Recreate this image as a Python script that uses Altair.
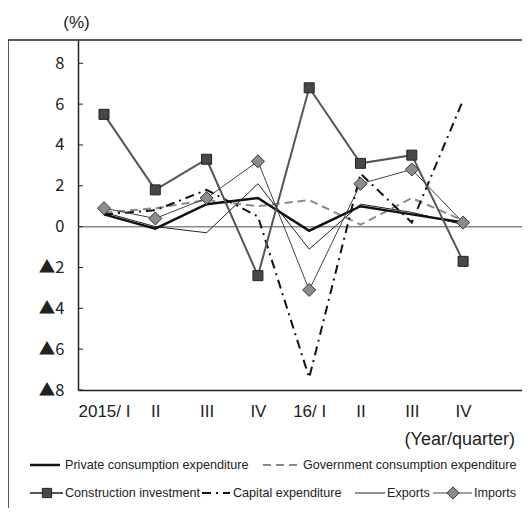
import json
import altair as alt
import pandas as pd

# ---------------- data ----------------
quarters = ["2015/ I", "II", "III", "IV", "16/ I", "II", "III", "IV"]
private_consumption = [0.6, -0.1, 1.1, 1.4, -0.2, 1.0, 0.6, 0.2]
government_consumption = [0.7, 0.9, 1.3, 1.0, 1.3, 0.1, 1.4, 0.3]
construction_investment = [5.5, 1.8, 3.3, -2.4, 6.8, 3.1, 3.5, -1.7]
capital_expenditure = [0.6, 0.8, 1.8, 0.5, -7.4, 2.6, 0.2, 6.2]
exports = [0.7, 0.0, -0.3, 2.1, -1.1, 1.1, 0.7, 0.1]
imports = [0.9, 0.4, 1.4, 3.2, -3.1, 2.1, 2.8, 0.2]
y_ticks = [-8, -6, -4, -2, 0, 2, 4, 6, 8]

W, H = 444, 350
FONT = "Liberation Sans, Arial, Helvetica, sans-serif"
YFONT = "Noto Sans CJK JP, sans-serif"
LEG_SIZE = 12.6
INK = "#222"

def frame(values):
    return pd.DataFrame({"q": list(range(len(quarters))), "v": values})

x_enc = alt.X(
    "q:Q",
    scale=alt.Scale(domain=[-0.507, 8.148], nice=False, zero=False),
    axis=alt.Axis(
        title=None, values=list(range(len(quarters))),
        labelExpr=json.dumps(quarters) + "[datum.value]",
        ticks=False, grid=False, labelFlush=False, labelOverlap=False,
        labelFont=FONT, labelFontSize=17, labelColor=INK, labelPadding=13,
        domainColor=INK, domainWidth=1.5,
    ),
)
y_enc = alt.Y(
    "v:Q",
    scale=alt.Scale(domain=[-8, 9.14], nice=False, zero=False),
    axis=alt.Axis(
        title=None, values=y_ticks,
        labelExpr="datum.value < 0 ? '▲' + (-datum.value) : '' + datum.value",
        ticks=False, grid=False,
        labelFont=YFONT, labelFontSize=16.5, labelColor=INK, labelPadding=14,
        domainColor=INK, domainWidth=1.5,
    ),
)

one = alt.Data(values=[{}])
layers = []

# outer frame
layers.append(alt.Chart(one).mark_rule(color=INK, strokeWidth=1.5).encode(
    x=alt.value(-70), x2=alt.value(W), y=alt.value(0)))
layers.append(alt.Chart(one).mark_rule(color=INK, strokeWidth=1.5).encode(
    x=alt.value(-70), y=alt.value(0), y2=alt.value(472)))

# zero line
layers.append(alt.Chart(pd.DataFrame({"v": [0]})).mark_rule(color="#8a8a8a", strokeWidth=1.5).encode(y=y_enc))
# inward y ticks
layers.append(alt.Chart(pd.DataFrame({"v": y_ticks})).mark_rule(color=INK, strokeWidth=1).encode(
    y=y_enc, x=alt.value(0), x2=alt.value(5)))

styles = [
    ("Government consumption expenditure", government_consumption, dict(color="#8a8a8a", strokeWidth=2, strokeDash=[8, 5])),
    ("Exports", exports, dict(color=INK, strokeWidth=1)),
    ("Private consumption expenditure", private_consumption, dict(color="#111", strokeWidth=2.5)),
    ("Capital expenditure", capital_expenditure, dict(color="#111", strokeWidth=2, strokeDash=[9, 5, 2, 5])),
    ("Construction investment", construction_investment, dict(color="#555", strokeWidth=2)),
    ("Imports", imports, dict(color="#444", strokeWidth=1)),
]
for name, vals, st in styles:
    layers.append(alt.Chart(frame(vals)).mark_line(**st).encode(x=x_enc, y=y_enc))

layers.append(alt.Chart(frame(construction_investment)).mark_point(
    shape="square", size=100, filled=True, fill="#484848", stroke="#222", strokeWidth=1, opacity=1
).encode(x=x_enc, y=y_enc))
layers.append(alt.Chart(frame(imports)).mark_point(
    shape="diamond", size=170, filled=True, fill="#8c8c8c", stroke="#333", strokeWidth=1, opacity=1
).encode(x=x_enc, y=y_enc))

# annotations
def text(s, px, py, size, font=FONT, align="left"):
    return alt.Chart(one).mark_text(
        text=s, font=font, fontSize=size, color=INK, align=align, baseline="middle"
    ).encode(x=alt.value(px), y=alt.value(py))

layers.append(text("(%)", -1.5, -17, 17, align="center"))
layers.append(text("(Year/quarter)", 437, 400, 18, align="right"))

# legend
def lrule(x1, x2, py, **st):
    return alt.Chart(one).mark_rule(**st).encode(x=alt.value(x1), x2=alt.value(x2), y=alt.value(py))

def lpoint(px, py, **st):
    return alt.Chart(one).mark_point(filled=True, opacity=1, **st).encode(x=alt.value(px), y=alt.value(py))

r1, r2 = 425, 453
layers += [
    lrule(-48, -18, r1, color="#111", strokeWidth=2.5),
    text("Private consumption expenditure", -13, r1, LEG_SIZE),
    lrule(185, 221, r1, color="#8a8a8a", strokeWidth=2, strokeDash=[8, 5]),
    text("Government consumption expenditure", 225, r1, LEG_SIZE),
    lrule(-48, -15, r2, color="#555", strokeWidth=2),
    lpoint(-31, r2, shape="square", size=85, fill="#484848", stroke="#222", strokeWidth=1),
    text("Construction investment", -13, r2, LEG_SIZE),
    lrule(124, 152, r2, color="#111", strokeWidth=2, strokeDash=[9, 5, 2, 5]),
    text("Capital expenditure", 155, r2, LEG_SIZE),
    lrule(277, 307, r2, color=INK, strokeWidth=1),
    text("Exports", 309, r2, LEG_SIZE),
    lrule(355, 394, r2, color="#444", strokeWidth=1),
    lpoint(375, r2, shape="diamond", size=150, fill="#8c8c8c", stroke="#333", strokeWidth=1),
    text("Imports", 396, r2, LEG_SIZE),
]

chart = alt.layer(*layers).properties(
    width=W, height=H,
    padding={"left": 70, "top": 32, "right": 0, "bottom": 118},
    autosize=alt.AutoSizeParams(type="none"),
    background="white",
).configure_view(stroke=None)

chart.save("out.html", embed_options={"renderer": "svg", "actions": False})
